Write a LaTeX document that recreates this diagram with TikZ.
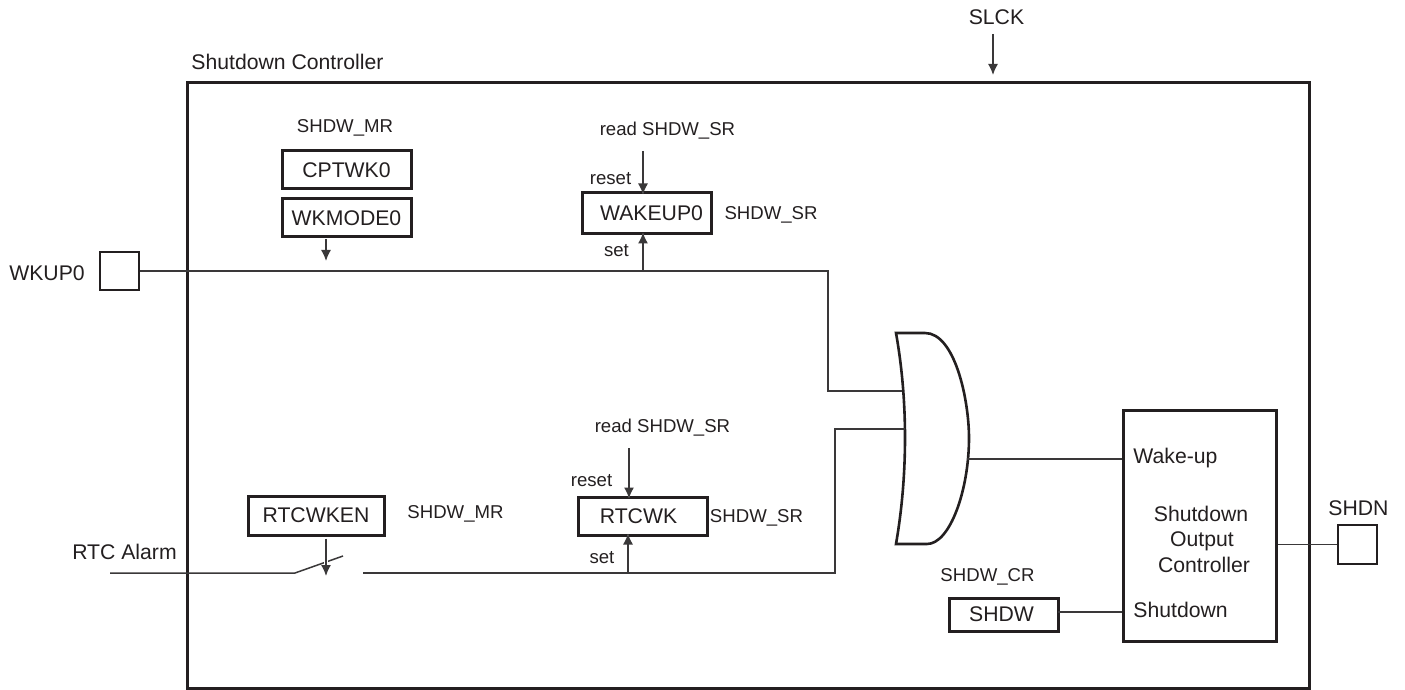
\documentclass[tikz,border=0pt]{standalone}
\usepackage{fontspec}
\setmainfont{Liberation Sans}
\usetikzlibrary{arrows.meta}
\definecolor{Ink}{HTML}{231F20}
\definecolor{Wire}{HTML}{3A3839}
\begin{document}
\begin{tikzpicture}[x=.5pt,y=-.5pt,every node/.style={text=Ink,font=\fontsize{9.3}{11}\selectfont,inner sep=0pt},
  biglabel/.style={font=\fontsize{10.6}{13}\selectfont},
  regbox/.style={draw=Ink,line width=1.5pt,biglabel},
  sig/.style={draw=Wire,line width=.75pt},
  sigarrow/.style={sig,-{Latex[length=5.5pt,width=5pt]},shorten >=-1.5pt,preaction={draw=white,line width=2.2pt}}]
\useasboundingbox(0,0)rectangle(1405,690);
\node[draw=Ink,line width=1.5pt,minimum width=561pt,minimum height=302.5pt](shutdown)at(748,385.5){};
\node[biglabel,anchor=west](shutdownlabel)at(191,62){Shutdown Controller};
\node[regbox,minimum width=64.5pt,minimum height=19pt](cptwk)at(346.5,170){CPTWK0};
\node[regbox,minimum width=64.5pt,minimum height=19pt](wkmode)at(346.5,218){WKMODE0};
\node[regbox,minimum width=64.5pt,minimum height=20.5pt](wakeup)at(646.5,213.5){\hspace*{5pt}WAKEUP0};
\node[regbox,minimum width=68pt,minimum height=19.5pt](rtcwken)at(316,515.5){RTCWKEN};
\node[regbox,minimum width=64.5pt,minimum height=19pt](rtcwk)at(642.5,516){RTCWK\hspace*{4pt}};
\node[regbox,minimum width=54.5pt,minimum height=16.5pt](shdw)at(1003.5,614.5){SHDW\hspace*{2pt}};
\node[draw=Ink,line width=1.5pt,minimum width=76.5pt,minimum height=115.5pt](output)at(1199.5,525.5){};
\node[draw=Ink,line width=1.4pt,minimum width=19.5pt,minimum height=19pt](wkuppad)at(119.5,271){};
\node[draw=Ink,line width=1.4pt,minimum width=19.5pt,minimum height=19.5pt](shdnpad)at(1357.5,544.5){};
\node[biglabel](slck)at(996.5,17){SLCK};
\node(mrtop)at(345,128){SHDW\_MR};
\node(readtop)at(667.5,131){read SHDW\_SR};
\node(resettop)at(610.5,179){reset};
\node(settop)at(616.5,251){set};
\node(srtop)at(771,215){SHDW\_SR};
\node[biglabel](wkuplabel)at(47,273){WKUP0};
\node(readbot)at(662.5,428){read SHDW\_SR};
\node(resetbot)at(591.5,481){reset};
\node(setbot)at(602,558){set};
\node(srbot)at(756.5,518){SHDW\_SR};
\node(mrbot)at(455.5,514){SHDW\_MR};
\node[biglabel](alarm)at(124.5,552){RTC Alarm};
\node(crlabel)at(987.5,577){SHDW\_CR};
\node[biglabel](shdnlabel)at(1358.5,508){SHDN};
\node[biglabel,anchor=base west](wakelabel)at(1133,463){Wake-up};
\node[biglabel,anchor=west](downlabel)at(1133,610){Shutdown};
\node[biglabel,anchor=base](outlabel1)at(1201,521.5){Shutdown};
\node[biglabel,anchor=base](outlabel2)at(1202,546){Output};
\node[biglabel,anchor=base](outlabel3)at(1204,572){Controller};
% or gate
\coordinate(gatein1)at(902,391);
\coordinate(gatein2)at(905,429);
\coordinate(gateout)at(967,459);
\draw[Ink,line width=1.3pt,line join=miter](896,333)..controls(908,400)and(908,475)..(896,544)--(927,544)..controls(950,544)and(969,490)..(969,438)..controls(969,400)and(955,333)..(925,333)--cycle;
% switch and arrows
\coordinate(alarmin)at(110,573);
\coordinate(bladel)at(295,573);
\coordinate(blader)at(343,556);
\draw[sig](alarmin)--(bladel)--(blader);
\coordinate(slcktop)at(993,34);
\coordinate(readin)at(643,151);
\coordinate(resetin)at(629,448);
\coordinate(setup)at(643,271);
\coordinate(setdown)at(628,573);
\coordinate(modeout)at(326,237);
\coordinate(modeend)at(326,261);
\coordinate(switchend)at(326,573);
\draw[sigarrow,shorten >=0pt](slcktop)--(993,75);
\draw[sigarrow,shorten >=0pt,shorten <=1pt](modeout)--(modeend);
\draw[sigarrow](readin)--(readin|-wakeup.north);
\draw[sigarrow](setup)--(setup|-wakeup.south);
\draw[sigarrow](resetin)--(resetin|-rtcwk.north);
\draw[sigarrow](setdown)--(setdown|-rtcwk.south);
\draw[sigarrow,shorten <=1pt](switchend|-rtcwken.south)--(switchend);
% wires
\coordinate(wkupbend)at(828,271);
\coordinate(swout)at(363,573);
\coordinate(rtcbend)at(835,573);
\coordinate(shdwout)at(1058,612);
\draw[sig](wkuppad.east)--(wkupbend)|-(gatein1);
\draw[sig](swout)--(rtcbend)|-(gatein2);
\draw[sig](gateout)--(gateout-|output.west);
\draw[sig](shdwout)--(shdwout-|output.west);
\draw[sig](output.east|-shdnpad.west)--(shdnpad.west);
\end{tikzpicture}
\end{document}
